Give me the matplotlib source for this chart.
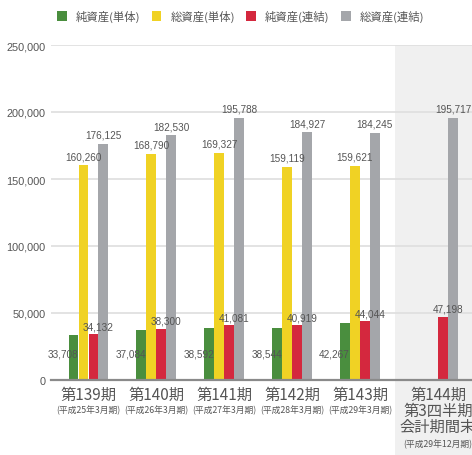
import matplotlib
matplotlib.use("Agg")
import matplotlib.pyplot as plt
import numpy as np
from matplotlib.patches import Patch

# --- data -------------------------------------------------------------
periods = ["第139期", "第140期", "第141期", "第142期", "第143期", "第144期\n第3四半期\n会計期間末"]
period_notes = ["(平成25年3月期)", "(平成26年3月期)", "(平成27年3月期)",
                "(平成28年3月期)", "(平成29年3月期)", "(平成29年12月期)"]
series_names = ["純資産(単体)", "総資産(単体)", "純資産(連結)", "総資産(連結)"]
net_single = [33708, 37084, 38592, 38544, 42267, None]
total_single = [160260, 168790, 169327, 159119, 159621, None]
net_consol = [34132, 38300, 41081, 40919, 44044, 47198]
total_consol = [176125, 182530, 195788, 184927, 184245, 195717]
yticks = [0, 50000, 100000, 150000, 200000, 250000]

colors = ["#4a8e3e", "#f0d224", "#d4283e", "#a4a6aa"]
TXT = "#555555"
JP = ["Noto Sans CJK JP", "DejaVu Sans"]
NUM = ["Liberation Sans Narrow", "Liberation Sans", "DejaVu Sans"]

plt.rcParams["font.family"] = JP

fig = plt.figure(figsize=(4.72, 4.56), dpi=100)
ax = fig.add_axes([51 / 472, 1 - 381 / 456, 1 - 51 / 472, 335 / 456])

# group positions: last group sits a little further right, in the shaded band
x = np.array([0, 1, 2, 3, 4, 5.15])
step = 0.147
width = 0.142
offsets = np.array([-1.5, -0.5, 0.5, 1.5]) * step

ax.axvspan(4.515, 6.0, ymin=-0.23, ymax=1.0, color="#f0f0f0", lw=0,
           zorder=0, clip_on=False)

all_series = [net_single, total_single, net_consol, total_consol]
for i, vals in enumerate(all_series):
    for xi, v in zip(x, vals):
        if v is None:
            continue
        ax.bar(xi + offsets[i], v, width=width, color=colors[i], zorder=3)
        lab = f"{v:,}"
        if i == 0:
            ax.text(xi + offsets[i] + width / 2, 20000, lab, ha="right",
                    va="center", fontsize=7.2, color=TXT, family=NUM, zorder=4)
        elif i == 2:
            ax.annotate(lab, (xi + offsets[i] + step / 2, v), xytext=(0, 2),
                        textcoords="offset points", ha="center", va="bottom",
                        fontsize=7.2, color=TXT, family=NUM, zorder=4)
        else:
            ax.annotate(lab, (xi + offsets[i], v), xytext=(0, 3),
                        textcoords="offset points", ha="center", va="bottom",
                        fontsize=7.2, color=TXT, family=NUM, zorder=4)

ax.set_xlim(-0.55, 5.65)
ax.set_ylim(0, 250000)
ax.set_yticks(yticks)
ax.set_yticklabels([f"{t:,}" for t in yticks], family=NUM, fontsize=7.8, color=TXT)
ax.tick_params(axis="y", length=0, pad=4)
ax.set_xticks([])
ax.grid(axis="y", color="#dedede", lw=1.2, zorder=1)
ax.set_axisbelow(True)
for s in ["top", "right", "left"]:
    ax.spines[s].set_visible(False)
ax.spines["bottom"].set_color("#8a8a8a")
ax.spines["bottom"].set_linewidth(1.6)
ax.spines["bottom"].set_zorder(5)

for i, (xi, name, note) in enumerate(zip(x, periods, period_notes)):
    ax.annotate(name, (xi, 0), xycoords=("data", "axes fraction"),
                xytext=(0, -4), textcoords="offset points", ha="center",
                va="top", fontsize=11, color=TXT, linespacing=0.95)
    nlines = name.count("\n") + 1
    ax.annotate(note, (xi, 0), xycoords=("data", "axes fraction"),
                xytext=(0, -4 - 12.0 * nlines - 2), textcoords="offset points",
                ha="center", va="top", fontsize=6.3, color=TXT)

handles = [Patch(facecolor=c, edgecolor="none") for c in colors]
fig.legend(handles, series_names, loc="center", bbox_to_anchor=(0.51, 1 - 17 / 456),
           ncol=4, frameon=False, fontsize=8.2, handlelength=0.85, handleheight=0.85,
           handletextpad=0.8, columnspacing=1.0, labelcolor=TXT)

fig.savefig("out.png", dpi=100)
